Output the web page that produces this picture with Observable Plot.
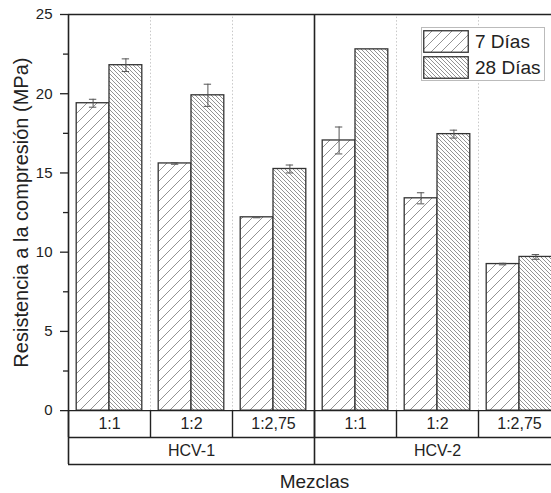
<!DOCTYPE html>
<html>
<head>
<meta charset="utf-8">
<script src="https://cdn.jsdelivr.net/npm/d3@7"></script>
<script src="https://cdn.jsdelivr.net/npm/@observablehq/plot@0.6"></script>
<style>
  body { margin: 0; background: #fff; }
  #wrap { position: relative; width: 551px; height: 493px; overflow: hidden; font-family: "Liberation Sans", Arial, sans-serif; }
  #chart svg { max-width: none !important; }
  #defs { position: absolute; width: 0; height: 0; }
  #legend { position: absolute; left: 421px; top: 27px; width: 122px; height: 52px; border: 1px solid #bbb; background: #fff; }
  .lrow { position: absolute; left: 1px; height: 23px; display: flex; align-items: center; }
  .lrow svg { display: block; }
  .lrow span { margin-left: 6px; font-size: 19px; color: #222; line-height: 1; }
</style>
</head>
<body>
<svg id="defs" aria-hidden="true">
  <defs>
    <pattern id="h7" patternUnits="userSpaceOnUse" width="10" height="10">
      <rect width="10" height="10" fill="#fff"></rect>
      <path d="M-2.5,2.5 L2.5,-2.5 M0,10 L10,0 M7.5,12.5 L12.5,7.5" stroke="#808080" stroke-width="0.85"></path>
    </pattern>
    <pattern id="h28" patternUnits="userSpaceOnUse" width="4" height="4">
      <rect width="4" height="4" fill="#fff"></rect>
      <path d="M-1,3 L1,5 M0,0 L4,4 M3,-1 L5,1" stroke="#777" stroke-width="0.8"></path>
    </pattern>
  </defs>
</svg>
<div id="wrap">
  <div id="chart"></div>
  <div id="legend"></div>
</div>
<script>
// ---- data ----
const groups = ["HCV-1", "HCV-2"];
const mixes = ["1:1", "1:2", "1:2,75"];
const series = ["7 Días", "28 Días"];
const mean7 = [19.4, 15.6, 12.2, 17.05, 13.4, 9.25];
const err7 = [0.25, 0.05, 0.03, 0.85, 0.35, 0.05];
const mean28 = [21.8, 19.9, 15.25, 22.8, 17.45, 9.7];
const err28 = [0.4, 0.7, 0.25, 0, 0.25, 0.15];
const yTicks = [0, 5, 10, 15, 20, 25];
const yMinor = [2.5, 7.5, 12.5, 17.5, 22.5];
const yMax = 25;
const tableRow = 1.7;

// ---- derived tables ----
const cats = [];
groups.forEach((g, gi) => mixes.forEach((m, mi) => cats.push({ i: gi * mixes.length + mi, group: g, mix: m })));
const nCat = cats.length;
const rows7 = cats.map(c => ({ ...c, value: mean7[c.i], err: err7[c.i] }));
const rows28 = cats.map(c => ({ ...c, value: mean28[c.i], err: err28[c.i] }));
const groupRows = groups.map((g, gi) => ({ g, mid: gi * mixes.length + mixes.length / 2 }));

const b0 = 0.1, b1 = 0.5, b2 = 0.9, capHalf = 0.045;

function errMarks(rows, off) {
  const cx = d => d.i + off;
  const withErr = rows.filter(d => d.err > 0);
  return [
    Plot.ruleX(withErr, { x: cx, y1: d => d.value - d.err, y2: d => d.value + d.err, stroke: "#555", strokeWidth: 1 }),
    Plot.ruleY(withErr, { y: d => d.value + d.err, x1: d => cx(d) - capHalf, x2: d => cx(d) + capHalf, stroke: "#555", strokeWidth: 1 }),
    Plot.ruleY(withErr, { y: d => d.value - d.err, x1: d => cx(d) - capHalf, x2: d => cx(d) + capHalf, stroke: "#555", strokeWidth: 1 })
  ];
}

const font = "Liberation Sans, Arial, sans-serif";
const chart = Plot.plot({
  width: 560,
  height: 493,
  marginLeft: 68,
  marginRight: 0,
  marginTop: 14,
  marginBottom: 29,
  style: { fontFamily: font, color: "#222", background: "#fff", maxWidth: "none" },
  x: { type: "linear", domain: [0, nCat], axis: null },
  y: { domain: [-2 * tableRow, yMax], axis: null },
  marks: [
    // dotted separators between mixes
    Plot.ruleX(cats.filter(c => c.i % mixes.length !== 0), { x: "i", y1: 0, y2: yMax, stroke: "#c8c8c8", strokeDasharray: "1.5,2", strokeWidth: 1 }),
    // bars
    Plot.rectY(rows7, { x1: d => d.i + b0, x2: d => d.i + b1, y1: 0, y2: "value", fill: "url(#h7)", stroke: "#333", strokeWidth: 1.3 }),
    Plot.rectY(rows28, { x1: d => d.i + b1, x2: d => d.i + b2, y1: 0, y2: "value", fill: "url(#h28)", stroke: "#333", strokeWidth: 1.3 }),
    ...errMarks(rows7, (b0 + b1) / 2),
    ...errMarks(rows28, (b1 + b2) / 2),
    // frame lines
    Plot.ruleY([yMax], { x1: 0, x2: nCat, stroke: "#222", strokeWidth: 1.6 }),
    Plot.ruleY([0, -tableRow, -2 * tableRow], { x1: 0, x2: nCat, stroke: "#222", strokeWidth: 1.4 }),
    Plot.ruleX(cats, { x: "i", y1: -tableRow, y2: 0, stroke: "#222", strokeWidth: 1.4 }),
    Plot.ruleX(groupRows.map((r, gi) => gi * mixes.length).concat([nCat]), { x: d => d, y1: -2 * tableRow, y2: yMax, stroke: "#222", strokeWidth: 1.6 }),
    // y axis ticks
    Plot.axisY({ ticks: yTicks, tickSize: 8, tickPadding: 8, fontSize: 15, label: null, stroke: "#222", strokeWidth: 1.3 }),
    Plot.axisY({ ticks: yMinor, tickSize: 5, tickFormat: () => "", label: null, stroke: "#222", strokeWidth: 1.3 }),
    // table labels
    Plot.text(cats, { x: d => d.i + 0.5, y: -tableRow / 2, text: "mix", fontSize: 16, fill: "#222" }),
    Plot.text(groupRows, { x: "mid", y: -1.5 * tableRow, text: "g", fontSize: 16, fill: "#222" }),
    // axis titles
    Plot.text(["Resistencia a la compresión (MPa)"], { x: 0, y: yMax / 2, rotate: -90, dx: -47, fontSize: 20, fill: "#222" }),
    Plot.text(["Mezclas"], { x: nCat / 2, y: -2 * tableRow, dy: 17, fontSize: 19, fill: "#222" })
  ]
});
document.getElementById("chart").appendChild(chart);

// ---- legend ----
const legend = document.getElementById("legend");
const patIds = ["h7", "h28"];
series.forEach((s, k) => {
  const row = document.createElement("div");
  row.className = "lrow";
  row.style.top = (2 + k * 26) + "px";
  row.innerHTML = `<svg width="46" height="23"><rect x="0.75" y="0.75" width="44.5" height="21.5" fill="url(#${patIds[k]})" stroke="#333" stroke-width="1.3"></rect></svg><span>${s}</span>`;
  legend.appendChild(row);
});
</script>
</body>
</html>
